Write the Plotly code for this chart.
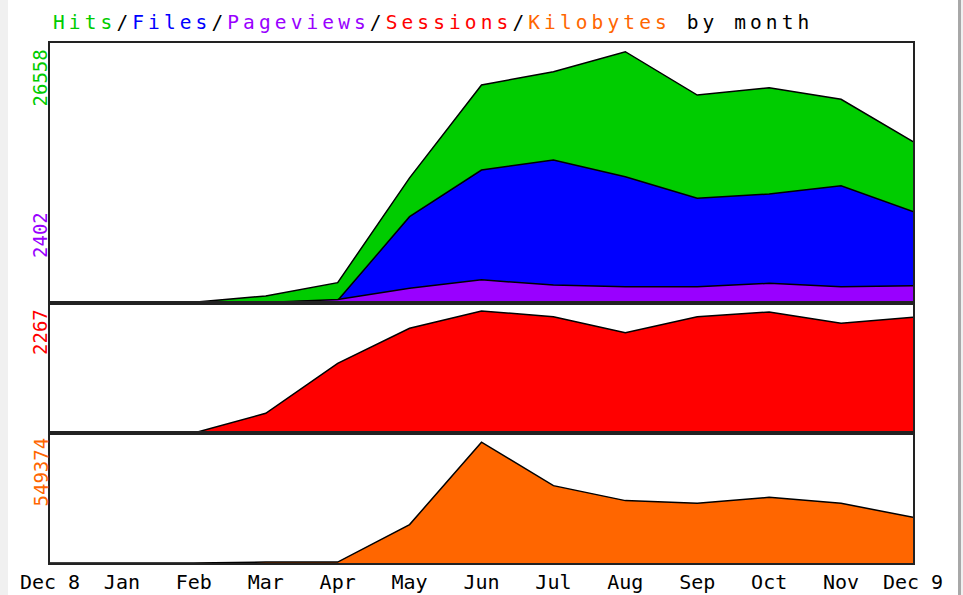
import plotly.graph_objects as go
from plotly.subplots import make_subplots

months = ["Dec 8", "Jan", "Feb", "Mar", "Apr", "May", "Jun", "Jul", "Aug", "Sep", "Oct", "Nov", "Dec 9"]
hits = [0, 0, 20, 690, 2100, 13200, 23030, 24440, 26558, 21970, 22750, 21520, 17030]
files = [0, 0, 0, 0, 200, 9090, 14030, 15090, 13320, 11030, 11490, 12370, 9620]
pageviews = [0, 0, 0, 0, 320, 1500, 2402, 1850, 1670, 1670, 2030, 1670, 1780]
sessions = [0, 0, 0, 366, 1295, 1945, 2267, 2161, 1864, 2161, 2250, 2038, 2150]
kilobytes = [0, 0, 0, 4000, 4000, 174800, 549374, 351850, 283750, 271500, 298700, 271500, 208000]

x = list(range(len(months)))

GREEN = "#00cc00"
BLUE = "#0000ff"
PURPLE = "#9900ff"
RED = "#ff0000"
ORANGE = "#ff6600"
FONT = "DejaVu Sans Mono"

W, H = 963, 595
L, R, T, B = 50, 50, 43, 32
PW, PH = W - L - R, H - T - B

def px_x(p):
    return (p - L) / PW

def px_y(p):
    return (H - B - p) / PH

fig = make_subplots(rows=3, cols=1, shared_xaxes=True, vertical_spacing=0,
                    row_heights=[259.5, 130.5, 130])

def area(y, color, row):
    fig.add_trace(go.Scatter(x=x, y=y, mode="lines", fill="tozeroy",
                             fillcolor=color, line=dict(color="black", width=1.5),
                             hoverinfo="skip", showlegend=False), row=row, col=1)

area(hits, GREEN, 1)
area(files, BLUE, 1)
area(pageviews, PURPLE, 1)
area(sessions, RED, 2)
area(kilobytes, ORANGE, 3)

tops = [max(hits) * 259.5 / 250.8, max(sessions) * 130.5 / 122, max(kilobytes) * 130 / 120.8]
for i in range(3):
    fig.update_yaxes(range=[0, tops[i]], showticklabels=False, showgrid=False, zeroline=False,
                     showline=True, mirror=True, linecolor="#222222", linewidth=2, ticks="",
                     automargin=False, row=i + 1, col=1)
    fig.update_xaxes(range=[0, len(months) - 1], showgrid=False, zeroline=False,
                     showline=True, mirror=True, linecolor="#222222", linewidth=2, ticks="",
                     tickmode="array", tickvals=x, ticktext=months, automargin=False,
                     showticklabels=(i == 2), row=i + 1, col=1)

fig.update_xaxes(tickfont=dict(family=FONT, size=20, color="black"), row=3, col=1)

def span(t, c):
    return f'<span style="color:{c};letter-spacing:4.1px">{t}</span>'

title = (span("Hits", GREEN) + span("/", "black") + span("Files", BLUE) + span("/", "black")
         + span("Pageviews", PURPLE) + span("/", "black") + span("Sessions", RED)
         + span("/", "black") + span("Kilobytes", ORANGE) + span(" by month", "black"))

ann = [dict(text=title, x=px_x(51), y=px_y(23), xref="paper", yref="paper",
            xanchor="left", yanchor="middle", showarrow=False,
            font=dict(family=FONT, size=19.5, color="black"))]

labels = [("26558", GREEN, 48), ("2402", PURPLE, 210), ("2267", RED, 307), ("549374", ORANGE, 436)]
for t, c, top in labels:
    ann.append(dict(text=t, x=px_x(40), y=px_y(top), xref="paper", yref="paper",
                    xanchor="center", yanchor="top", textangle=-90, showarrow=False,
                    font=dict(family=FONT, size=19, color=c)))

shapes = [
    dict(type="rect", xref="paper", yref="paper", x0=px_x(0), x1=px_x(8), y0=px_y(595), y1=px_y(0),
         fillcolor="#f0f0f0", line=dict(width=0), layer="below"),
    dict(type="rect", xref="paper", yref="paper", x0=px_x(958), x1=px_x(961), y0=px_y(595), y1=px_y(0),
         fillcolor="#a8a8a8", line=dict(width=0), layer="below"),
    dict(type="rect", xref="paper", yref="paper", x0=px_x(961), x1=px_x(963), y0=px_y(595), y1=px_y(0),
         fillcolor="#f0f0f0", line=dict(width=0), layer="below"),
]

fig.update_layout(width=W, height=H, margin=dict(l=L, r=R, t=T, b=B, autoexpand=False),
                  paper_bgcolor="white", plot_bgcolor="white",
                  annotations=ann, shapes=shapes, showlegend=False)

fig.write_html("out.html", config={"displayModeBar": False},
               post_script="document.body.style.margin='0';document.body.style.overflow='hidden';")
